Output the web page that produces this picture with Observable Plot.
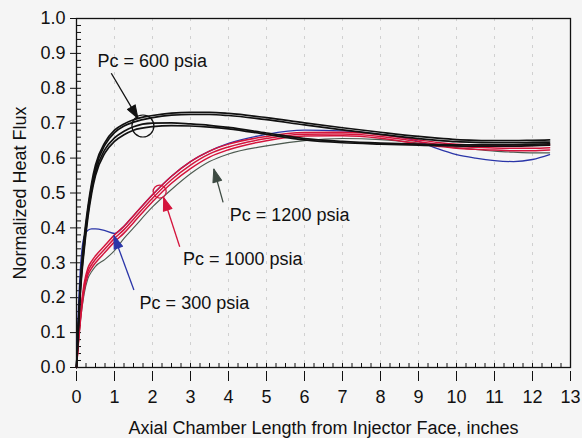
<!DOCTYPE html>
<html>
<head>
<meta charset="utf-8">
<script src="https://cdn.jsdelivr.net/npm/d3@7"></script>
<script src="https://cdn.jsdelivr.net/npm/@observablehq/plot@0.6"></script>
<style>
  html, body { margin: 0; padding: 0; background: #f5f5f5; }
</style>
</head>
<body>
<div id="chart"></div>
<script>
// Axial positions (inches)
const xs = [0, 0.05, 0.1, 0.2, 0.3, 0.4, 0.5, 0.75, 1, 1.25, 1.5, 2, 2.5, 3, 3.5, 4, 5, 6, 7, 8, 9, 9.5, 10, 10.5, 11, 11.5, 12, 12.45];

// Pc = 600 psia (black)
const black600a = [0, .13, .24, .37, .46, .53, .58, .645, .68, .698, .71, .722, .729, .731, .731, .728, .716, .701, .687, .674, .662, .657, .653, .651, .65, .65, .651, .652];
const black600b = [0, .12, .23, .36, .45, .52, .57, .638, .673, .692, .703, .716, .723, .725, .725, .722, .71, .695, .681, .668, .656, .651, .647, .645, .644, .644, .645, .646];
const black600c = [0, .12, .22, .345, .44, .51, .56, .625, .658, .677, .69, .70, .701, .698, .694, .688, .672, .656, .648, .643, .64, .639, .638, .638, .638, .638, .64, .641];
const black600d = [0, .11, .21, .335, .43, .50, .55, .615, .648, .667, .68, .69, .693, .692, .689, .684, .668, .652, .644, .64, .637, .636, .635, .634, .634, .634, .636, .637];
// Pc = 1000 psia (red)
const red1000a = [0, .08, .15, .24, .285, .305, .32, .35, .38, .405, .435, .495, .548, .59, .62, .64, .662, .673, .674, .667, .652, .645, .64, .637, .636, .635, .636, .638];
const red1000b = [0, .075, .14, .23, .275, .295, .31, .34, .37, .395, .425, .485, .538, .58, .612, .632, .656, .668, .669, .662, .647, .64, .634, .631, .629, .628, .628, .63];
const red1000c = [0, .07, .13, .22, .265, .285, .30, .33, .36, .385, .415, .475, .528, .57, .603, .624, .65, .663, .664, .657, .641, .634, .628, .625, .623, .621, .621, .623];
// Pc = 1200 psia (grey)
const grey1200 = [0, .07, .13, .21, .255, .275, .29, .31, .335, .37, .40, .46, .51, .555, .59, .612, .635, .65, .656, .653, .643, .636, .63, .625, .62, .617, .615, .615];
// Pc = 300 psia (blue)
const blue300 = [0, .17, .28, .375, .393, .397, .397, .392, .384, .405, .435, .495, .548, .59, .62, .642, .668, .68, .678, .668, .648, .627, .61, .60, .593, .59, .596, .61];

// Annotations
const labelText = ["Pc = 600 psia", "Pc = 1200 psia", "Pc = 1000 psia", "Pc = 300 psia"];
const labelX = [0.554, 4.035, 2.803, 1.661];
const labelY = [0.878, 0.435, 0.309, 0.184];
const arrowX1 = [0.915, 3.858, 2.716, 1.511];
const arrowY1 = [0.843, 0.473, 0.346, 0.222];
const arrowX2 = [1.617, 3.613, 2.294, 0.984];
const arrowY2 = [0.714, 0.569, 0.487, 0.378];
const arrowColor = ["#111111", "#3d4a42", "#d4143c", "#2a35a8"];
const circleX = [1.748, 2.189];
const circleY = [0.692, 0.504];
const circleR = [11, 6.5];
const circleColor = ["#111111", "#d4143c"];

// Tick labels
const xTicks = d3.range(0, 14);
const yTicks = d3.range(0, 11).map(i => i / 10);

const series = [
  {name: "grey1200", ys: grey1200, color: "#4d5a50", w: 1.1},
  {name: "blue300", ys: blue300, color: "#2a35a8", w: 1.3},
  {name: "red1000c", ys: red1000c, color: "#d4143c", w: 1.5},
  {name: "red1000b", ys: red1000b, color: "#d4143c", w: 1.5},
  {name: "red1000a", ys: red1000a, color: "#d4143c", w: 1.5},
  {name: "black600d", ys: black600d, color: "#111111", w: 1.7},
  {name: "black600c", ys: black600c, color: "#111111", w: 1.7},
  {name: "black600b", ys: black600b, color: "#111111", w: 1.7},
  {name: "black600a", ys: black600a, color: "#111111", w: 1.7}
];

const lineMarks = series.map(s =>
  Plot.line(xs.map((x, i) => ({x, y: s.ys[i]})), {
    x: "x", y: "y", stroke: s.color, strokeWidth: s.w, curve: "monotone-x"
  })
);

const labels = labelText.map((t, i) => ({t, x: labelX[i], y: labelY[i]}));
const arrows = arrowX1.map((x1, i) => ({x1, y1: arrowY1[i], x2: arrowX2[i], y2: arrowY2[i], c: arrowColor[i]}));
const circles = circleX.map((x, i) => ({x, y: circleY[i], r: circleR[i], c: circleColor[i]}));

const chart = Plot.plot({
  width: 582,
  height: 438,
  marginLeft: 76,
  marginRight: 12,
  marginTop: 18,
  marginBottom: 71,
  style: {fontSize: "18px", fontFamily: "'Liberation Sans', Arial, sans-serif", background: "#f5f5f5", color: "#111"},
  x: {domain: [0, 13]},
  y: {domain: [0, 1]},
  r: {type: "identity"},
  marks: [
    Plot.gridX(d3.range(1, 13), {stroke: "#999", strokeOpacity: 0.4, strokeDasharray: "3,6"}),
    Plot.axisX({ticks: d3.range(0, 13.001, 0.25), tickSize: 4, dy: -4, text: null, label: null}),
    Plot.axisX({ticks: xTicks, tickSize: 10, dy: 4, text: null, label: null}),
    Plot.axisX({ticks: xTicks, tickSize: 0, tickPadding: 23, tickFormat: d => String(d),
      label: "Axial Chamber Length from Injector Face, inches", labelAnchor: "center", labelArrow: "none", labelOffset: 66}),
    Plot.axisY({ticks: d3.range(0, 51).map(i => i / 50), tickSize: 5, dx: 5, text: null, label: null}),
    Plot.axisY({ticks: yTicks, tickSize: 6, tickPadding: 5, tickFormat: d => d.toFixed(1),
      label: "Normalized Heat Flux", labelAnchor: "center", labelArrow: "none", labelOffset: 63}),
    Plot.frame({stroke: "#111", strokeWidth: 1.3}),
    ...lineMarks,
    Plot.link(arrows, {x1: "x1", y1: "y1", x2: "x2", y2: "y2", stroke: "c", strokeWidth: 1.3, markerEnd: "arrow"}),
    Plot.dot(circles, {x: "x", y: "y", r: "r", stroke: "c", strokeWidth: 1.2, fill: "none"}),
    Plot.text(labels, {x: "x", y: "y", text: "t", textAnchor: "start", fill: "#111", fontSize: 18})
  ]
});

// turn open arrow markers into filled triangles
d3.select(chart).selectAll("marker").each(function() {
  const m = d3.select(this);
  const c = m.attr("stroke");
  m.attr("markerUnits", "userSpaceOnUse")
   .attr("viewBox", "-14 -7 15 14")
   .attr("markerWidth", 15).attr("markerHeight", 14)
   .attr("overflow", "visible")
   .attr("stroke-width", 1);
  m.select("path").attr("d", "M-13,-4.5L0,0L-13,4.5Z").attr("fill", c);
});

document.getElementById("chart").appendChild(chart);
</script>
</body>
</html>
